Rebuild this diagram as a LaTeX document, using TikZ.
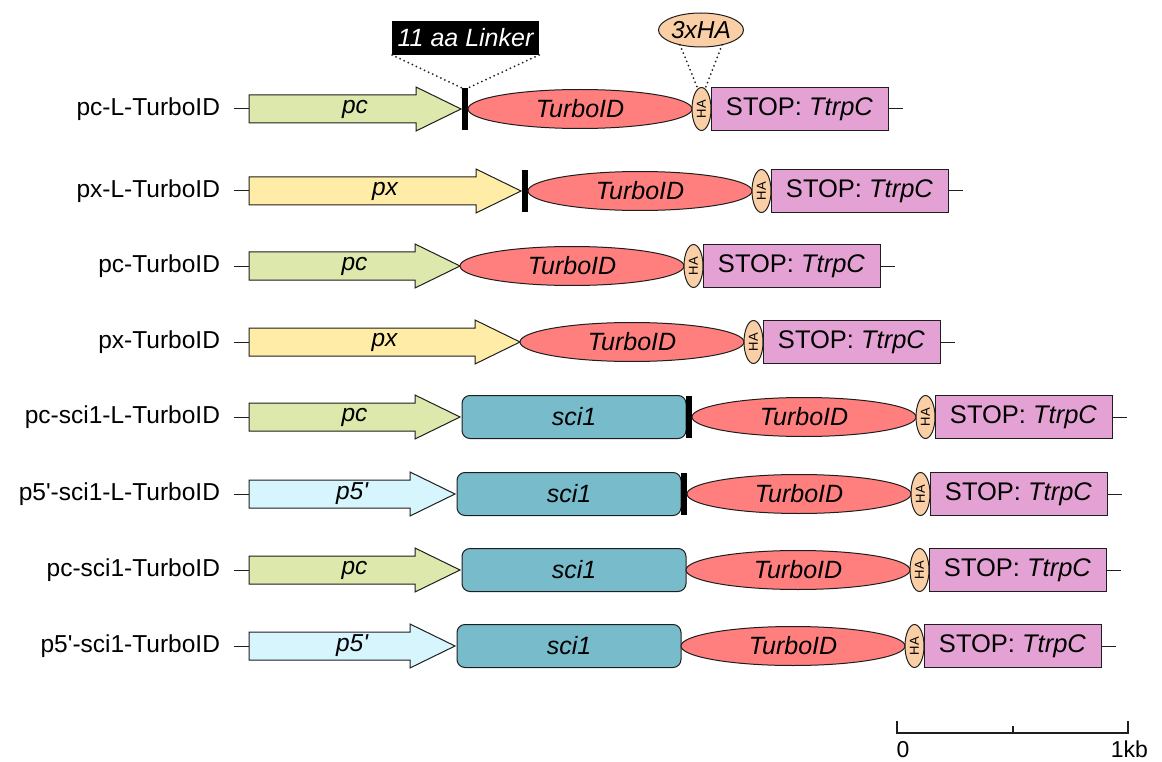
\documentclass[tikz,border=0pt]{standalone}
\usepackage{fontspec}
\setmainfont{Liberation Sans}
\newfontfamily\arialplain{Liberation Sans}
\usetikzlibrary{shapes.geometric,calc}
\definecolor{pcC}{RGB}{221,232,172}
\definecolor{pxC}{RGB}{255,237,167}
\definecolor{pfC}{RGB}{214,245,253}
\definecolor{turboC}{RGB}{255,127,127}
\definecolor{haC}{RGB}{250,207,165}
\definecolor{stopC}{RGB}{228,162,212}
\definecolor{sciC}{RGB}{120,187,203}
\definecolor{lineC}{RGB}{30,30,30}
\newcommand{\promarrow}[5]{%
  \draw[outl, fill=#4] (249,#2-14) -- (#3-45,#2-14) -- (#3-45,#2-22) -- (#3,#2)
     -- (#3-45,#2+22) -- (#3-45,#2+14) -- (249,#2+14) -- cycle;
  \node[ptxt] (#1) at ({(249+#3)/2},#2) {#5};
  \coordinate (#1b) at (249,#2);
  \coordinate (#1t) at (#3,#2);
}
\begin{document}
\begin{tikzpicture}[x=1pt,y=-1pt,
  every node/.style={outer sep=0pt},
  outl/.style={draw=lineC, line width=1pt},
  conn/.style={draw=lineC, line width=1pt},
  lbl/.style={anchor=east, inner sep=0pt, font=\fontsize{24.5}{28}\selectfont},
  ptxt/.style={inner sep=0pt, font=\fontsize{24.5}{28}\selectfont\itshape},
  turbo/.style={ellipse, outl, fill=turboC, minimum width=224pt, minimum height=39pt,
     inner sep=0pt, anchor=west, font=\fontsize{25}{28}\selectfont\itshape},
  haS/.style={ellipse, outl, fill=haC, minimum width=19pt, minimum height=43pt,
     inner sep=0pt, anchor=west, font=\fontsize{13}{13}\selectfont},
  stopS/.style={rectangle, outl, fill=stopC, minimum width=177pt, minimum height=43pt,
     inner sep=0pt, anchor=west, font=\fontsize{25.5}{28}\selectfont},
  sciS/.style={rectangle, rounded corners=8pt, outl, fill=sciC, minimum width=224pt,
     minimum height=43pt, inner sep=0pt, anchor=west, font=\fontsize{25}{28}\selectfont\itshape},
  barS/.style={rectangle, fill=black, minimum width=6pt, minimum height=42pt,
     inner sep=0pt, anchor=west},
  dots/.style={line width=2pt, dash pattern=on 0pt off 4.5pt, line cap=round, draw=lineC}
]
\useasboundingbox (0,0) rectangle (1162,762);

% ---- Row 1: pc-L-TurboID
\node[lbl] (n1) at (220,109) {pc-L-TurboID};
\coordinate (s1) at (234,109);
\promarrow{p1}{109}{461}{pcC}{pc}
\draw[conn] (s1) -- (p1b);
\node[barS] (b1) at (462,109) {};
\node[turbo] (t1) at (b1.east) {TurboID};
\node[haS] (h1) at (t1.east) {\rotatebox{90}{HA}};
\node[stopS] (x1) at (h1.east) {STOP: \textit{TtrpC}};
\coordinate (e1) at ($(x1.east)+(15,0)$);
\draw[conn] (x1.east) -- (e1);

% ---- Row 2: px-L-TurboID
\node[lbl] (n2) at (220,191) {px-L-TurboID};
\coordinate (s2) at (234,191);
\promarrow{p2}{191}{521}{pxC}{px}
\draw[conn] (s2) -- (p2b);
\node[barS] (b2) at (522,191) {};
\node[turbo] (t2) at (b2.east) {TurboID};
\node[haS] (h2) at (t2.east) {\rotatebox{90}{HA}};
\node[stopS] (x2) at (h2.east) {STOP: \textit{TtrpC}};
\coordinate (e2) at ($(x2.east)+(15,0)$);
\draw[conn] (x2.east) -- (e2);

% ---- Row 3: pc-TurboID
\node[lbl] (n3) at (220,266) {pc-TurboID};
\coordinate (s3) at (234,266);
\promarrow{p3}{266}{460}{pcC}{pc}
\draw[conn] (s3) -- (p3b);
\node[turbo] (t3) at (p3t) {TurboID};
\node[haS] (h3) at (t3.east) {\rotatebox{90}{HA}};
\node[stopS] (x3) at (h3.east) {STOP: \textit{TtrpC}};
\coordinate (e3) at ($(x3.east)+(15,0)$);
\draw[conn] (x3.east) -- (e3);

% ---- Row 4: px-TurboID
\node[lbl] (n4) at (220,342) {px-TurboID};
\coordinate (s4) at (234,342);
\promarrow{p4}{342}{520}{pxC}{px}
\draw[conn] (s4) -- (p4b);
\node[turbo] (t4) at (p4t) {TurboID};
\node[haS] (h4) at (t4.east) {\rotatebox{90}{HA}};
\node[stopS] (x4) at (h4.east) {STOP: \textit{TtrpC}};
\coordinate (e4) at ($(x4.east)+(15,0)$);
\draw[conn] (x4.east) -- (e4);

% ---- Row 5: pc-sci1-L-TurboID
\node[lbl] (n5) at (220,417) {pc-sci1-L-TurboID};
\coordinate (s5) at (234,417);
\promarrow{p5}{417}{460}{pcC}{pc}
\draw[conn] (s5) -- (p5b);
\node[sciS] (c5) at (462,417) {sci1};
\node[barS] (b5) at (c5.east) {};
\node[turbo] (t5) at (b5.east) {TurboID};
\node[haS] (h5) at (t5.east) {\rotatebox{90}{HA}};
\node[stopS] (x5) at (h5.east) {STOP: \textit{TtrpC}};
\coordinate (e5) at ($(x5.east)+(15,0)$);
\draw[conn] (x5.east) -- (e5);

% ---- Row 6: p5'-sci1-L-TurboID
\node[lbl] (n6) at (220,494) {{\arialplain p5'-sci1-L-TurboID}};
\coordinate (s6) at (234,494);
\promarrow{p6}{494}{455}{pfC}{{\arialplain\itshape p5'}}
\draw[conn] (s6) -- (p6b);
\node[sciS] (c6) at (457,494) {sci1};
\node[barS] (b6) at (c6.east) {};
\node[turbo] (t6) at (b6.east) {TurboID};
\node[haS] (h6) at (t6.east) {\rotatebox{90}{HA}};
\node[stopS] (x6) at (h6.east) {STOP: \textit{TtrpC}};
\coordinate (e6) at ($(x6.east)+(15,0)$);
\draw[conn] (x6.east) -- (e6);

% ---- Row 7: pc-sci1-TurboID
\node[lbl] (n7) at (220,570) {pc-sci1-TurboID};
\coordinate (s7) at (234,570);
\promarrow{p7}{570}{460}{pcC}{pc}
\draw[conn] (s7) -- (p7b);
\node[sciS] (c7) at (462,570) {sci1};
\node[turbo] (t7) at (c7.east) {TurboID};
\node[haS] (h7) at (t7.east) {\rotatebox{90}{HA}};
\node[stopS] (x7) at (h7.east) {STOP: \textit{TtrpC}};
\coordinate (e7) at ($(x7.east)+(15,0)$);
\draw[conn] (x7.east) -- (e7);

% ---- Row 8: p5'-sci1-TurboID
\node[lbl] (n8) at (220,646) {{\arialplain p5'-sci1-TurboID}};
\coordinate (s8) at (234,646);
\promarrow{p8}{646}{455}{pfC}{{\arialplain\itshape p5'}}
\draw[conn] (s8) -- (p8b);
\node[sciS] (c8) at (457,646) {sci1};
\node[turbo] (t8) at (c8.east) {TurboID};
\node[haS] (h8) at (t8.east) {\rotatebox{90}{HA}};
\node[stopS] (x8) at (h8.east) {STOP: \textit{TtrpC}};
\coordinate (e8) at ($(x8.east)+(15,0)$);
\draw[conn] (x8.east) -- (e8);

% ---- callouts
\node[fill=black, text=white, minimum width=147pt, minimum height=34pt, inner sep=0pt,
      font=\fontsize{25}{28}\selectfont\itshape] (lk) at (465.5,38) {11 aa Linker};
\draw[dots] (lk.south west) -- (b1.north west);
\draw[dots] (lk.south east) -- (b1.north east);

\node[ellipse, outl, fill=haC, minimum width=85pt, minimum height=34pt, inner sep=0pt,
      font=\fontsize{24.5}{28}\selectfont\itshape] (hx) at (701,30) {3xHA};
\draw[dots] (hx.215) -- (h1.100);
\draw[dots] (hx.325) -- (h1.80);

% ---- scale bar
\coordinate (sb0) at (897,733);
\coordinate (sb1) at (1128,733);
\draw[line width=2pt, draw=lineC] (897,721) -- (sb0) -- (sb1) -- (1128,721);
\draw[line width=2pt, draw=lineC] (1013,726) -- (1013,733);
\node[inner sep=0pt, anchor=base, font=\fontsize{23}{26}\selectfont] (z0) at (903,757) {0};
\node[inner sep=0pt, anchor=base east, font=\fontsize{23}{26}\selectfont] (z1) at (1148,757) {1kb};
\end{tikzpicture}
\end{document}
